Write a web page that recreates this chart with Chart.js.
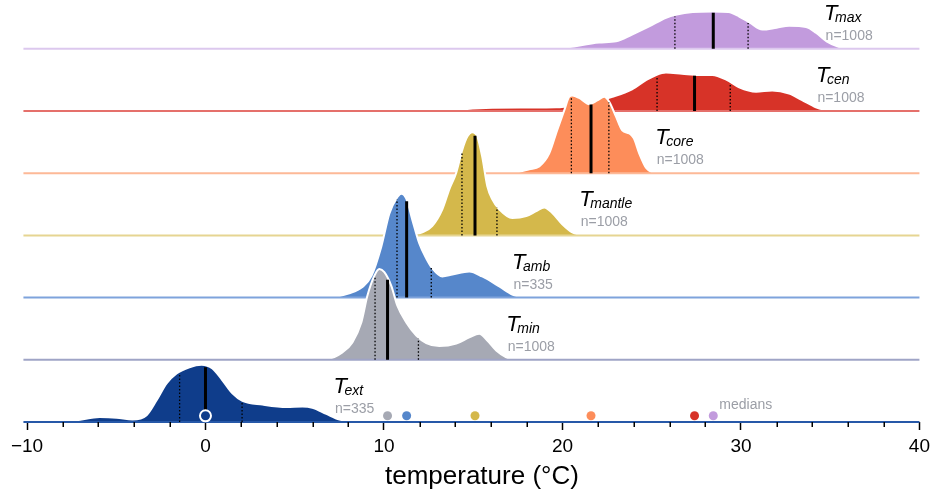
<!DOCTYPE html>
<html>
<head>
<meta charset="utf-8">
<script src="https://cdn.jsdelivr.net/npm/chart.js@4.4.0/dist/chart.umd.min.js"></script>
<style>
  html, body { margin: 0; padding: 0; background: #fff; }
</style>
</head>
<body>
<canvas id="ridges" width="935" height="494"></canvas>
<script>
// ridges, bottom to top
const names  = ['ext', 'min', 'amb', 'mantle', 'core', 'cen', 'max'];
const counts = [335, 1008, 335, 1008, 1008, 1008, 1008];
const medians = [0, 10.2, 11.27, 15.1, 21.6, 27.4, 28.45];
const q1 = [-1.45, 9.5, 10.73, 14.37, 20.5, 25.3, 26.3];
const q3 = [2.05, 11.93, 12.65, 16.33, 22.6, 29.4, 30.4];

// density curves (temperature, height in ridge units)
const tExt = [-9.3, -8.57, -7.22, -5.93, -4.98, -4.09, -3.3, -2.74, -2.18, -1.62, -0.9, -0.22, 0.39, 0.95, 1.51, 2.07, 3.19, 4.54, 5.43, 5.99, 6.77, 7.5, 8.3];
const dExt = [0, 0.005, 0.03, 0.08, 0.07, 0.04, 0.11, 0.35, 0.62, 0.78, 0.88, 0.92, 0.86, 0.67, 0.46, 0.34, 0.28, 0.24, 0.25, 0.23, 0.13, 0.04, 0];

const tMin = [5.82, 6.78, 7.67, 8.23, 8.73, 9.07, 9.46, 9.74, 10.02, 10.41, 10.75, 11.25, 11.81, 12.37, 13.1, 14.05, 14.78, 15.34, 15.79, 16.29, 16.85, 17.3];
const dMin = [0, 0.01, 0.12, 0.28, 0.6, 1.03, 1.35, 1.46, 1.41, 1.19, 0.87, 0.6, 0.39, 0.27, 0.22, 0.26, 0.36, 0.42, 0.31, 0.15, 0.04, 0];

const tAmb = [5.82, 7.1, 8.06, 8.79, 9.3, 9.85, 10.3, 10.69, 10.97, 11.25, 11.59, 11.98, 12.37, 12.71, 13.27, 13.83, 14.78, 15.5, 16.46, 17.19, 17.7];
const dAmb = [0, 0.01, 0.07, 0.17, 0.35, 0.82, 1.35, 1.59, 1.67, 1.59, 1.25, 0.87, 0.63, 0.47, 0.34, 0.37, 0.42, 0.34, 0.18, 0.05, 0];

const tMantle = [10.86, 11.7, 12.15, 12.7, 13.27, 13.66, 14.05, 14.39, 14.67, 14.95, 15.23, 15.5, 15.79, 16.07, 16.46, 17.19, 17.97, 18.53, 18.98, 19.43, 19.99, 20.55, 21.1];
const dMantle = [0, 0.02, 0.05, 0.15, 0.42, 0.74, 1.01, 1.38, 1.59, 1.66, 1.59, 1.27, 0.79, 0.58, 0.42, 0.28, 0.31, 0.39, 0.45, 0.36, 0.18, 0.05, 0];

const tCore = [16.46, 17.4, 18.14, 18.7, 19.26, 19.7, 20.1, 20.38, 20.55, 20.94, 21.5, 21.95, 22.34, 22.62, 23.0, 23.35, 23.74, 24.0, 24.3, 24.7, 25.14];
const dCore = [0, 0.01, 0.065, 0.11, 0.32, 0.69, 1.01, 1.23, 1.25, 1.21, 1.11, 1.17, 1.23, 1.15, 0.91, 0.69, 0.64, 0.56, 0.32, 0.08, 0];

const tCen = [13.1, 15.7, 18.1, 19.65, 20.66, 21.78, 22.8, 23.9, 24.7, 25.25, 25.8, 26.7, 27.65, 28.4, 29.2, 29.9, 30.85, 31.75, 32.7, 33.4, 34.2, 34.9];
const dCen = [0, 0.05, 0.055, 0.06, 0.09, 0.15, 0.23, 0.35, 0.5, 0.58, 0.62, 0.6, 0.58, 0.58, 0.5, 0.38, 0.31, 0.33, 0.28, 0.18, 0.06, 0];

const tMax = [17.6, 19.8, 22.06, 23.0, 23.9, 24.86, 25.8, 26.4, 27.3, 28.4, 29.3, 29.9, 30.5, 31.2, 32.0, 32.7, 33.65, 34.2, 34.8, 35.5, 36.2];
const dMax = [0, 0.01, 0.1, 0.12, 0.23, 0.36, 0.5, 0.55, 0.59, 0.6, 0.59, 0.52, 0.42, 0.31, 0.34, 0.37, 0.35, 0.26, 0.12, 0.03, 0];

const curveT = [tExt, tMin, tAmb, tMantle, tCore, tCen, tMax];
const curveD = [dExt, dMin, dAmb, dMantle, dCore, dCen, dMax];

// look & layout
const FONT = "'Liberation Sans', Arial, sans-serif";
const fills = ['#0f3d8b', '#a6a9b4', '#5687cb', '#d4b84b', '#fd8d5a', '#d73328', '#c29bdd'];
const lines = ['#2658a8', '#9fa4c6', '#7ea3dc', '#e6d592', '#fdb997', '#e5706b', '#dcc8ee'];
const labelX = [7.17, 16.85, 17.17, 20.94, 25.2, 34.2, 34.66];

function heightAt(i, v) {
  const ts = curveT[i], ds = curveD[i];
  for (let k = 1; k < ts.length; k++) {
    if (v <= ts[k]) {
      const f = (v - ts[k - 1]) / (ts[k] - ts[k - 1]);
      return ds[k - 1] + f * (ds[k] - ds[k - 1]);
    }
  }
  return 0;
}

// build datasets: top ridge drawn first, each lower ridge covers the one above
const datasets = [];
let seq = 0;
const TOP = 200;
for (let i = names.length - 1; i >= 0; i--) {
  const base = i;
  datasets.push({
    data: curveT[i].map((t, k) => ({ x: t, y: base + curveD[i][k] })),
    fill: { value: base },
    backgroundColor: fills[i],
    borderColor: '#fff',
    borderWidth: 2,
    pointRadius: 0,
    cubicInterpolationMode: 'monotone',
    order: TOP - seq++,
  });
  datasets.push({
    data: [{ x: -10.2, y: base }, { x: 40, y: base }],
    borderColor: lines[i],
    borderWidth: 2,
    pointRadius: 0,
    clip: false,
    order: TOP - seq++,
  });
  [q1[i], q3[i]].forEach(v => {
    datasets.push({
      data: [{ x: v, y: base }, { x: v, y: base + heightAt(i, v) - 0.02 }],
      borderColor: '#000',
      borderWidth: 1.3,
      borderDash: [1.5, 2],
      pointRadius: 0,
      order: TOP - seq++,
    });
  });
  datasets.push({
    data: [{ x: medians[i], y: base }, { x: medians[i], y: base + heightAt(i, medians[i]) - 0.02 }],
    borderColor: '#000',
    borderWidth: 3,
    pointRadius: 0,
    order: TOP - seq++,
  });
}
// median dots along the axis
datasets.push({
  type: 'scatter',
  data: medians.map(m => ({ x: m, y: 0.1 })),
  pointRadius: medians.map((m, i) => i === 0 ? 5.5 : 4.5),
  pointBackgroundColor: fills,
  pointBorderColor: medians.map((m, i) => i === 0 ? '#fff' : fills[i]),
  pointBorderWidth: medians.map((m, i) => i === 0 ? 2 : 0),
  showLine: false,
  clip: false,
  order: TOP - seq++,
});

const ridgeText = {
  id: 'ridgeText',
  afterDatasetsDraw(chart) {
    const { ctx, scales: { x, y } } = chart;
    ctx.save();
    ctx.textBaseline = 'alphabetic';
    ctx.textAlign = 'left';
    names.forEach((name, i) => {
      const px = x.getPixelForValue(labelX[i]);
      const py = y.getPixelForValue(i);
      ctx.fillStyle = '#000';
      ctx.font = `italic 22px ${FONT}`;
      ctx.fillText('T', px, py - 29);
      ctx.font = `italic 14px ${FONT}`;
      ctx.fillText(name, px + 11, py - 27);
      ctx.fillStyle = '#9b9ea6';
      ctx.font = `14px ${FONT}`;
      ctx.fillText('n=' + counts[i], px + 1.5, py - 9);
    });
    ctx.fillStyle = '#9b9ea6';
    ctx.font = `14px ${FONT}`;
    ctx.fillText('medians', x.getPixelForValue(Math.max(...medians)) + 6, y.getPixelForValue(0) - 13);
    ctx.restore();
  },
  afterDraw(chart) {
    const { ctx, scales: { x }, chartArea } = chart;
    ctx.save();
    // minor ticks every 2 degrees
    ctx.strokeStyle = '#000';
    ctx.lineWidth = 1.5;
    for (let v = -8; v < 40; v += 2) {
      if (v % 10 === 0) continue;
      const px = Math.round(x.getPixelForValue(v)) + 0.25;
      ctx.beginPath();
      ctx.moveTo(px, chartArea.bottom);
      ctx.lineTo(px, chartArea.bottom + 5);
      ctx.stroke();
    }
    // axis title
    ctx.fillStyle = '#000';
    ctx.font = `26px ${FONT}`;
    ctx.textAlign = 'left';
    ctx.textBaseline = 'alphabetic';
    ctx.fillText('temperature (°C)', x.getPixelForValue(10) + 1, chartArea.bottom + 62);
    ctx.restore();
  }
};

new Chart(document.getElementById('ridges'), {
  type: 'line',
  data: { datasets },
  options: {
    responsive: false,
    animation: false,
    events: [],
    layout: { autoPadding: false, padding: { left: 27, right: 15, top: 0, bottom: 0 } },
    plugins: { legend: { display: false }, tooltip: { enabled: false } },
    scales: {
      x: {
        type: 'linear',
        min: -10,
        max: 40,
        border: { display: false },
        grid: { display: true, drawOnChartArea: false, drawTicks: true, tickLength: 8, tickColor: '#000', tickWidth: 1.5 },
        ticks: {
          stepSize: 10,
          color: '#000',
          padding: 5,
          maxRotation: 0,
          autoSkip: false,
          font: { family: FONT, size: 19 },
          callback: v => v < 0 ? '\u2212' + Math.abs(v) : String(v),
        },
        afterFit: s => { s.height = 72; },
      },
      y: { display: false, min: 0, max: 6.785 },
    },
  },
  plugins: [ridgeText],
});
</script>
</body>
</html>
